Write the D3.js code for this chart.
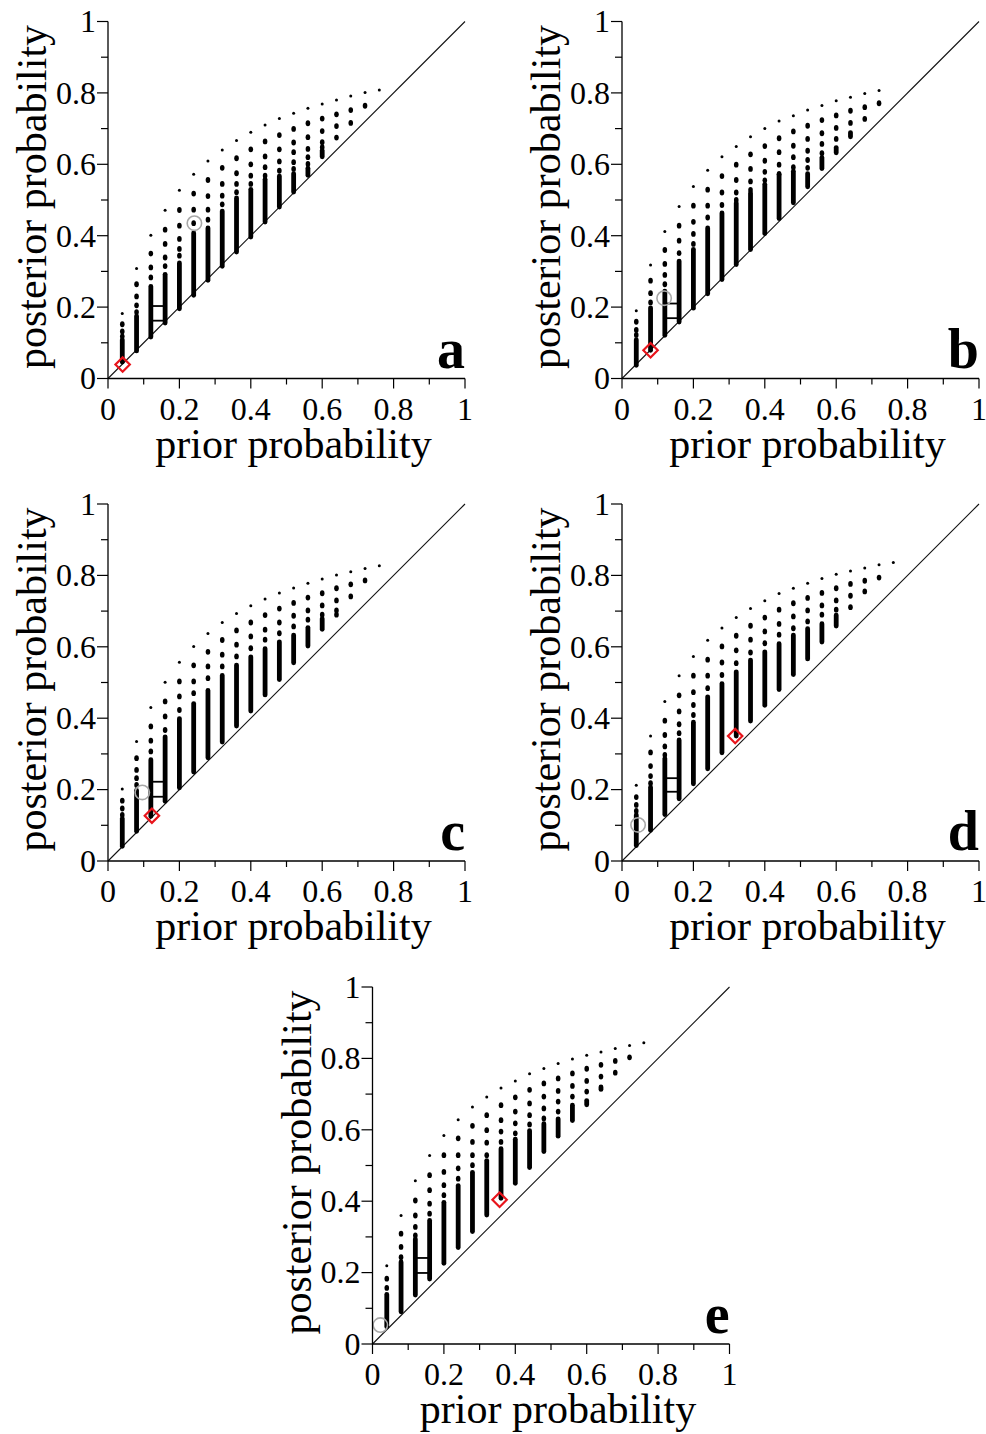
<!DOCTYPE html>
<html><head><meta charset="utf-8">
<script src="https://cdn.jsdelivr.net/npm/d3@7"></script>
<style>body{margin:0;background:#fff}svg{display:block}text{font-family:"Liberation Serif","Times New Roman",serif}</style>
</head><body>
<script>
// ---------- data ----------
const priors19 = [0.04,0.08,0.12,0.16,0.20,0.24,0.28,0.32,0.36,0.40,0.44,0.48,0.52,0.56,0.60,0.64,0.68,0.72,0.76];
const priors18 = priors19.slice(0,18);
const majorTicks = [0,0.2,0.4,0.6,0.8,1];
const minorTicks = [0.1,0.3,0.5,0.7,0.9];
const tickLabels = ["0","0.2","0.4","0.6","0.8","1"];
const panelLetters = ["a","b","c","d","e"];
const xTitle = "prior probability";
const yTitle = "posterior probability";

const aDots = [[0.182,0.152,0.132,0.118],[0.308,0.264,0.230,0.205,0.186],[0.401,0.350,0.311,0.283],[0.471,0.417,0.377,0.339,0.315],[0.527,0.472,0.428,0.391,0.363,0.344],[0.572,0.518,0.473,0.435],[0.609,0.556,0.511,0.473,0.445],[0.640,0.590,0.545,0.512,0.488],[0.667,0.617,0.575,0.545,0.522],[0.690,0.642,0.600,0.568,0.545],[0.710,0.664,0.622,0.592,0.568],[0.728,0.682,0.642,0.608,0.582],[0.743,0.699,0.661,0.634,0.606,0.587],[0.757,0.715,0.676,0.643,0.620,0.601],[0.769,0.728,0.693,0.662,0.648],[0.780,0.740,0.707,0.675],[0.791,0.752,0.716],[0.801,0.764],[0.808]];
const aDense = [[0.045,0.110],[0.076,0.176],[0.115,0.259],[0.154,0.293],[0.194,0.325],[0.232,0.409],[0.274,0.423],[0.313,0.470],[0.353,0.507],[0.395,0.531],[0.437,0.559],[0.479,0.568],[0.521,0.575],[0.568,0.590],[0.620,0.640],null,null,null,null];

const bDots = [[0.190,0.159,0.136,0.122],[0.318,0.274,0.239,0.213],[0.412,0.360,0.321,0.290,0.264],[0.482,0.428,0.386,0.351],[0.538,0.484,0.439,0.405,0.377],[0.583,0.529,0.484,0.451],[0.621,0.567,0.521,0.486],[0.650,0.599,0.556,0.521,0.500],[0.677,0.628,0.587,0.552,0.528],[0.700,0.651,0.610,0.579,0.555],[0.721,0.673,0.634,0.599,0.573],[0.736,0.692,0.652,0.620,0.592],[0.752,0.708,0.671,0.638,0.612,0.590],[0.765,0.724,0.687,0.657,0.631],[0.778,0.737,0.702,0.671],[0.788,0.750,0.716],[0.798,0.760,0.727],[0.807,0.771]];
const bDense = [[0.036,0.110],[0.078,0.199],[0.120,0.246],[0.157,0.330],[0.196,0.363],[0.236,0.423],[0.276,0.465],[0.318,0.493],[0.360,0.521],[0.405,0.545],[0.447,0.573],[0.491,0.582],[0.536,0.575],[0.587,0.620],[0.631,0.648],[0.676,0.690],null,null];

const cDots = [[0.202,0.169,0.147,0.129],[0.335,0.288,0.255,0.232,0.213],[0.430,0.377,0.337,0.307],[0.501,0.447,0.405,0.367],[0.557,0.503,0.461,0.423],[0.601,0.548,0.503,0.470],[0.637,0.586,0.545,0.512],[0.668,0.619,0.578,0.545],[0.693,0.646,0.606,0.573],[0.715,0.668,0.629,0.596],[0.734,0.689,0.648,0.620],[0.751,0.707,0.668,0.638],[0.765,0.723,0.687,0.657],[0.778,0.738,0.702,0.676],[0.790,0.750,0.716,0.690],[0.801,0.764,0.730,0.702,0.690],[0.810,0.775,0.741],[0.819,0.786],[0.827]];
const cDense = [[0.040,0.120],[0.082,0.199],[0.124,0.285],[0.166,0.349],[0.204,0.400],[0.248,0.442],[0.288,0.479],[0.332,0.521],[0.377,0.550],[0.419,0.573],[0.464,0.596],[0.507,0.615],[0.554,0.634],[0.601,0.655],[0.648,0.680],null,null,null,null];

const dDots = [[0.212,0.179,0.157,0.140],[0.350,0.304,0.266,0.238,0.218],[0.447,0.393,0.353,0.321,0.297],[0.519,0.464,0.419,0.383,0.358],[0.573,0.519,0.473,0.437,0.409],[0.618,0.564,0.519,0.484],[0.653,0.601,0.556,0.521],[0.682,0.631,0.590,0.554],[0.707,0.659,0.620,0.584],[0.729,0.682,0.643,0.610],[0.749,0.704,0.664,0.634],[0.764,0.722,0.685,0.652],[0.778,0.737,0.702,0.671],[0.791,0.751,0.716,0.690],[0.803,0.764,0.730,0.704],[0.812,0.776,0.743,0.711],[0.821,0.785,0.755],[0.830,0.794],[0.836]];
const dDense = [[0.042,0.130],[0.085,0.208],[0.129,0.288],[0.173,0.340],[0.215,0.390],[0.257,0.461],[0.302,0.498],[0.349,0.531],[0.391,0.564],[0.435,0.587],[0.479,0.610],[0.521,0.634],[0.565,0.652],[0.612,0.666],[0.657,0.690],null,null,null,null];

const eDots = [[0.219,0.183,0.157],[0.360,0.309,0.272,0.243],[0.457,0.402,0.360,0.328,0.304],[0.528,0.473,0.431,0.393,0.365],[0.584,0.529,0.482,0.445,0.417],[0.628,0.576,0.529,0.492,0.463],[0.664,0.611,0.566,0.529,0.501],[0.692,0.641,0.599,0.564,0.529],[0.717,0.669,0.627,0.595,0.566],[0.737,0.691,0.651,0.618,0.590],[0.757,0.712,0.674,0.641,0.615],[0.772,0.730,0.693,0.660,0.632],[0.786,0.744,0.709,0.679,0.651],[0.798,0.758,0.723,0.693],[0.809,0.771,0.737,0.707],[0.818,0.782,0.749],[0.828,0.793,0.760],[0.836,0.803],[0.844]];
const eDense = [[0.047,0.140],[0.089,0.231],[0.136,0.295],[0.181,0.347],[0.225,0.398],[0.269,0.445],[0.314,0.482],[0.360,0.515],[0.407,0.548],[0.449,0.575],[0.493,0.599],[0.538,0.618],[0.581,0.632],[0.625,0.670],[0.669,0.683],[0.712,0.721],null,null,null];

// markers: [prior, posterior]
const diamonds = [[0.041,0.039],[0.080,0.079],[0.123,0.127],[0.317,0.350],[0.356,0.404]];
const circles  = [[0.242,0.435],[0.118,0.225],[0.096,0.192],[0.045,0.101],[0.022,0.053]];
const boxLow   = [0.162,0.169,0.180,0.194,0.199];
const boxHigh  = [0.203,0.210,0.222,0.232,0.241];
const boxX     = [0.12,0.16];

// ---------- layout ----------
const W = 986, H = 1434, S = 357;
const panels = [
  {x:108,   y:21.5,  priors:priors19, dots:aDots, dense:aDense},
  {x:622,   y:21.5,  priors:priors18, dots:bDots, dense:bDense},
  {x:108,   y:504,   priors:priors19, dots:cDots, dense:cDense},
  {x:622,   y:504,   priors:priors19, dots:dDots, dense:dDense},
  {x:372.5, y:987,   priors:priors19, dots:eDots, dense:eDense}
];

const svg = d3.select("body").append("svg").attr("width",W).attr("height",H);

panels.forEach((p,i)=>{
  const g = svg.append("g").attr("transform",`translate(${p.x},${p.y})`);
  const x = d3.scaleLinear().domain([0,1]).range([0,S]);
  const y = d3.scaleLinear().domain([0,1]).range([S,0]);

  // diagonal
  g.append("line").attr("x1",x(0)).attr("y1",y(0)).attr("x2",x(1)).attr("y2",y(1))
    .attr("stroke","#111").attr("stroke-width",1.1);

  // dense segments and dots
  p.priors.forEach((pr,k)=>{
    const d = p.dense[k];
    if(d){
      g.append("rect").attr("x",x(pr)-2.4).attr("width",4.8)
        .attr("y",y(d[1])-2).attr("height",y(d[0])-y(d[1])+4)
        .attr("rx",2.4).attr("fill","#000");
    }
    p.dots[k].forEach((v,j)=>{
      g.append("ellipse").attr("cx",x(pr)).attr("cy",y(v))
        .attr("rx", j===0?1.5:2.3).attr("ry", j===0?1.5:2.9).attr("fill","#000");
    });
  });

  // box (horizontal bars)
  [boxLow[i],boxHigh[i]].forEach(v=>{
    g.append("line").attr("x1",x(boxX[0])).attr("x2",x(boxX[1])).attr("y1",y(v)).attr("y2",y(v))
      .attr("stroke","#000").attr("stroke-width",1.8);
  });

  // circle
  g.append("circle").attr("cx",x(circles[i][0])).attr("cy",y(circles[i][1])).attr("r",7.2)
    .attr("fill","none").attr("stroke","#a8a8a8").attr("stroke-width",1.6);
  // diamond
  const dx = x(diamonds[i][0]), dy = y(diamonds[i][1]), r=7.2;
  g.append("path").attr("d",`M${dx},${dy-r}L${dx+r},${dy}L${dx},${dy+r}L${dx-r},${dy}Z`)
    .attr("fill","none").attr("stroke","#e8141b").attr("stroke-width",2.2);

  // axes
  const xAxis = g.append("g").attr("transform",`translate(0,${S})`);
  xAxis.append("line").attr("x1",0).attr("x2",S).attr("stroke","#000").attr("stroke-width",1.3);
  majorTicks.forEach(t=>xAxis.append("line").attr("x1",x(t)).attr("x2",x(t)).attr("y1",0).attr("y2",10).attr("stroke","#000").attr("stroke-width",1.2));
  minorTicks.forEach(t=>xAxis.append("line").attr("x1",x(t)).attr("x2",x(t)).attr("y1",0).attr("y2",6).attr("stroke","#000").attr("stroke-width",1.2));
  majorTicks.forEach((t,k)=>xAxis.append("text").attr("x",x(t)).attr("y",41).attr("text-anchor","middle")
    .attr("font-size",32).text(tickLabels[k]));

  const yAxis = g.append("g");
  yAxis.append("line").attr("y1",0).attr("y2",S).attr("stroke","#000").attr("stroke-width",1.3);
  majorTicks.forEach(t=>yAxis.append("line").attr("y1",y(t)).attr("y2",y(t)).attr("x1",-11).attr("x2",0).attr("stroke","#000").attr("stroke-width",1.2));
  minorTicks.forEach(t=>yAxis.append("line").attr("y1",y(t)).attr("y2",y(t)).attr("x1",-7).attr("x2",0).attr("stroke","#000").attr("stroke-width",1.2));
  majorTicks.forEach((t,k)=>yAxis.append("text").attr("x",-12).attr("y",y(t)).attr("dy","0.34em").attr("text-anchor","end")
    .attr("font-size",32).text(tickLabels[k]));

  // titles
  g.append("text").attr("x",S/2+7).attr("y",S+79).attr("text-anchor","middle").attr("font-size",42).text(xTitle);
  g.append("text").attr("transform",`translate(-62,${S/2-3}) rotate(-90)`).attr("text-anchor","middle")
    .attr("font-size",42).text(yTitle);

  // letter
  g.append("text").attr("x",S).attr("y",S-11).attr("text-anchor","end").attr("font-size",56)
    .attr("font-weight","bold").text(panelLetters[i]);
});
</script>
</body></html>
